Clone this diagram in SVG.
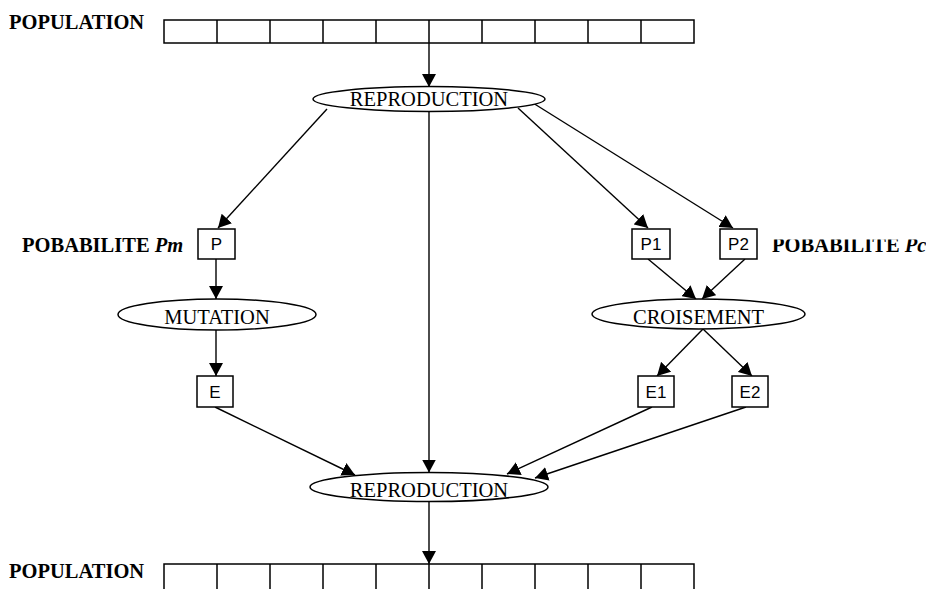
<svg xmlns="http://www.w3.org/2000/svg" width="926" height="589" viewBox="0 0 926 589">
<style>
.bg{fill:#fff}
.bar{fill:#fff;stroke:#000;stroke-width:1.5}
.cell{stroke:#000;stroke-width:1.5}
.ell{fill:#fff;stroke:#000;stroke-width:1.5}
.box{fill:#fff;stroke:#000;stroke-width:1.5}
.lbl{font-family:"Liberation Serif","Times New Roman",serif;font-size:20.5px;fill:#000;text-anchor:middle}
.bold{font-family:"Liberation Serif","Times New Roman",serif;font-size:20.5px;font-weight:bold;fill:#000}
.sans{font-family:"Liberation Sans",Arial,sans-serif;font-size:17px;fill:#000;text-anchor:middle}
.con line{stroke:#000;stroke-width:1.4;marker-end:url(#ah)}
</style>
<defs>
<marker id="ah" markerUnits="userSpaceOnUse" markerWidth="14" markerHeight="14" refX="13" refY="7" orient="auto">
<path d="M0,0 L13,7 L0,14 z" fill="#000"/>
</marker>
<clipPath id="clipPc"><rect x="760" y="239.5" width="170" height="20"/></clipPath>
</defs>
<rect class="bg" x="0" y="0" width="926" height="589"/>

<g id="population-top">
<text class="bold" x="9" y="29">POPULATION</text>
<rect class="bar" x="164" y="20" width="530" height="23"/>
<path class="cell" d="M217,20V43M270,20V43M323,20V43M376,20V43M429,20V43M482,20V43M535,20V43M588,20V43M641,20V43"/>
</g>

<g id="population-bottom">
<text class="bold" x="9" y="578">POPULATION</text>
<path class="cell" fill="none" d="M164,590V564H694V590M217,564V590M270,564V590M323,564V590M376,564V590M429,564V590M482,564V590M535,564V590M588,564V590M641,564V590"/>
</g>

<g class="con" id="connectors">
<line x1="429" y1="43" x2="429" y2="87"/>
<line x1="327" y1="109" x2="218" y2="228"/>
<line x1="429" y1="111.5" x2="429" y2="472.5"/>
<line x1="518" y1="108" x2="648" y2="228"/>
<line x1="533" y1="103" x2="733" y2="228"/>
<line x1="216" y1="259" x2="216" y2="299"/>
<line x1="216" y1="330" x2="216" y2="376"/>
<line x1="648" y1="259" x2="696" y2="299"/>
<line x1="745" y1="259" x2="702" y2="299"/>
<line x1="703" y1="329" x2="657" y2="376"/>
<line x1="703" y1="329" x2="752" y2="376"/>
<line x1="215" y1="407" x2="355" y2="475"/>
<line x1="652" y1="407" x2="507" y2="474"/>
<line x1="746" y1="407" x2="535" y2="478"/>
<line x1="429" y1="502" x2="429" y2="564"/>
</g>

<g id="reproduction-top">
<ellipse class="ell" cx="429" cy="99" rx="116" ry="12.5"/>
<text class="lbl" x="429" y="106">REPRODUCTION</text>
</g>

<g id="p">
<rect class="box" x="198" y="229" width="37" height="30"/>
<text class="sans" x="216.5" y="250">P</text>
</g>
<text class="bold" x="22" y="252">POBABILITE <tspan font-style="italic">Pm</tspan></text>

<g id="p1">
<rect class="box" x="632" y="229" width="38" height="30"/>
<text class="sans" x="651" y="250">P1</text>
</g>
<g id="p2">
<rect class="box" x="720" y="229" width="37" height="30"/>
<text class="sans" x="738.5" y="250">P2</text>
</g>
<text class="bold" x="772" y="252" clip-path="url(#clipPc)">POBABILITE <tspan font-style="italic">Pc</tspan></text>

<g id="mutation">
<ellipse class="ell" cx="217" cy="314.5" rx="99" ry="15.5"/>
<text class="lbl" x="217" y="324">MUTATION</text>
</g>

<g id="croisement">
<ellipse class="ell" cx="698.5" cy="314" rx="106.5" ry="15"/>
<text class="lbl" x="698.5" y="323.5">CROISEMENT</text>
</g>

<g id="e">
<rect class="box" x="197" y="376" width="36" height="31"/>
<text class="sans" x="215" y="397.5">E</text>
</g>
<g id="e1">
<rect class="box" x="638" y="376" width="36" height="31"/>
<text class="sans" x="656" y="397.5">E1</text>
</g>
<g id="e2">
<rect class="box" x="732" y="376" width="36" height="31"/>
<text class="sans" x="750" y="397.5">E2</text>
</g>

<g id="reproduction-bottom">
<ellipse class="ell" cx="429" cy="487" rx="119" ry="14.5"/>
<text class="lbl" x="429" y="497">REPRODUCTION</text>
</g>
</svg>
